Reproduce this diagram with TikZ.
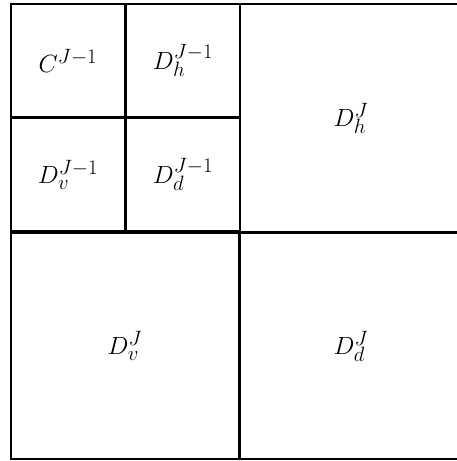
\documentclass[tikz,border=0pt]{standalone}
\begin{document}
\begin{tikzpicture}[x=1pt,y=-1pt,
  cell/.style={draw=black,line width=1.8pt,rectangle,inner sep=0pt,outer sep=0pt,
    font=\fontsize{29}{35}\selectfont}]
\useasboundingbox (0,0) rectangle (457,461);
\node[cell,minimum width=114pt,minimum height=113pt] (c) at (68,60.5) {$C^{J-1}$};
\node[cell,minimum width=114pt,minimum height=113pt] (dh1) at (183,60.5) {$D_h^{J-1}$};
\node[cell,minimum width=114pt,minimum height=113pt] (dv1) at (68,174.5) {$D_v^{J-1}$};
\node[cell,minimum width=114pt,minimum height=113pt] (dd1) at (183,174.5) {$D_d^{J-1}$};
\node[cell,minimum width=222pt,minimum height=228pt] (dh) at (351,118) {$D_h^{J}$};
\node[cell,minimum width=228pt,minimum height=226pt] (dv) at (125,346) {$D_v^{J}$};
\node[cell,minimum width=222pt,minimum height=226pt] (dd) at (351,346) {$D_d^{J}$};
\end{tikzpicture}
\end{document}
